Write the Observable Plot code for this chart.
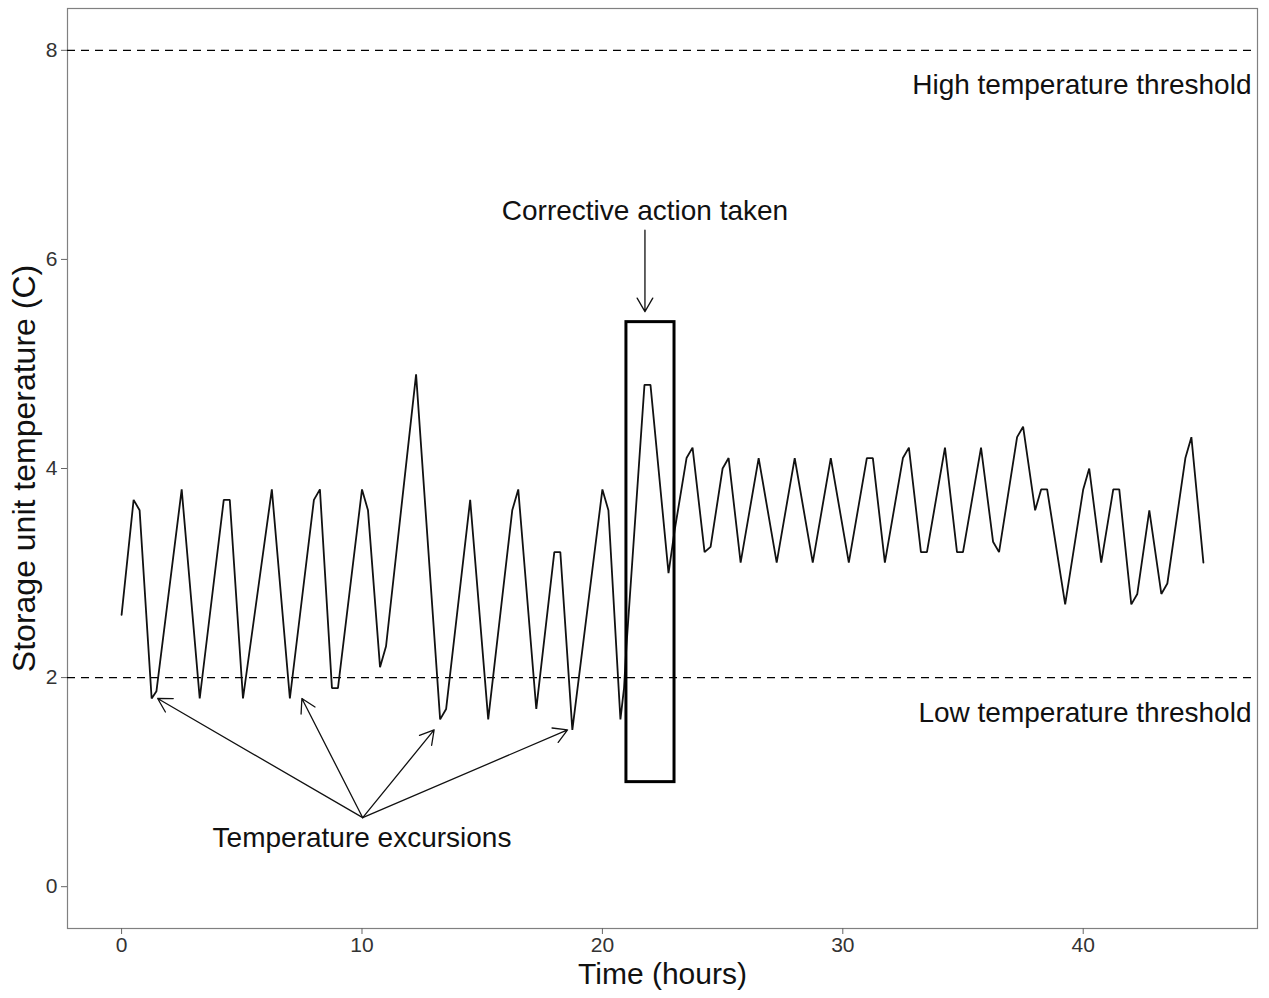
<!DOCTYPE html>
<html>
<head>
<meta charset="utf-8">
<script src="https://cdn.jsdelivr.net/npm/d3@7"></script>
<script src="https://cdn.jsdelivr.net/npm/@observablehq/plot@0.6"></script>
<style>
  html, body { margin: 0; padding: 0; background: #fff; }
  #chart svg { font-family: "Liberation Sans", Arial, sans-serif; background: #fff; }
</style>
</head>
<body>
<div id="chart"></div>
<script>
// Time (hours) and storage unit temperature (C)
const times = [0, 0.5, 0.75, 1.25, 1.45, 2.5, 3.25, 4.25, 4.5, 5.05, 6.25, 7.0, 8.0, 8.25, 8.75, 9.0,
  10.0, 10.25, 10.75, 11.0, 12.25, 13.25, 13.5, 14.5, 15.25, 16.25, 16.5, 17.25, 18.0, 18.25, 18.75,
  20.0, 20.25, 20.75, 20.9, 21.0, 21.75, 22.0, 22.75, 22.85, 23.0, 23.5, 23.75, 24.25, 24.5, 25.0, 25.25,
  25.75, 26.5, 27.25, 28.0, 28.75, 29.5, 30.25, 31.0, 31.25, 31.75, 32.5, 32.75, 33.25, 33.5,
  34.25, 34.75, 35.0, 35.75, 36.25, 36.5, 37.25, 37.5, 38.0, 38.25, 38.5, 39.25, 40.0, 40.25,
  40.75, 41.25, 41.5, 42.0, 42.25, 42.75, 43.25, 43.5, 44.25, 44.5, 45.0];
const temps = [2.6, 3.7, 3.6, 1.8, 1.87, 3.8, 1.8, 3.7, 3.7, 1.8, 3.8, 1.8, 3.7, 3.8, 1.9, 1.9,
  3.8, 3.6, 2.1, 2.3, 4.9, 1.6, 1.7, 3.7, 1.6, 3.6, 3.8, 1.7, 3.2, 3.2, 1.5,
  3.8, 3.6, 1.6, 1.9, 2.3, 4.8, 4.8, 3.0, 3.16, 3.4, 4.1, 4.2, 3.2, 3.25, 4.0, 4.1,
  3.1, 4.1, 3.1, 4.1, 3.1, 4.1, 3.1, 4.1, 4.1, 3.1, 4.1, 4.2, 3.2, 3.2,
  4.2, 3.2, 3.2, 4.2, 3.3, 3.2, 4.3, 4.4, 3.6, 3.8, 3.8, 2.7, 3.8, 4.0,
  3.1, 3.8, 3.8, 2.7, 2.8, 3.6, 2.8, 2.9, 4.1, 4.3, 3.1];

const xTicks = [0, 10, 20, 30, 40];
const yTicks = [0, 2, 4, 6, 8];

const thresholdValues = [8, 2];
const thresholdLabels = ["High temperature threshold", "Low temperature threshold"];
const thresholdLabelX = [47, 47];
const thresholdLabelY = [7.67, 1.66];

// Corrective action box
const boxX1 = [21], boxX2 = [23], boxY1 = [1], boxY2 = [5.4];

// Annotation texts
const noteTexts = ["Corrective action taken", "Temperature excursions"];
const noteX = [21.77, 10];
const noteY = [6.46, 0.47];

// Arrows
const arrowX1 = [21.77, 10.03, 10.03, 10.03, 10.03];
const arrowY1 = [6.28, 0.66, 0.66, 0.66, 0.66];
const arrowX2 = [21.77, 1.5, 7.5, 13.0, 18.55];
const arrowY2 = [5.5, 1.8, 1.8, 1.5, 1.5];

const series = times.map((t, i) => ({t, v: temps[i]}));
const thresholds = thresholdValues.map((v, i) => ({v, label: thresholdLabels[i], x: thresholdLabelX[i], y: thresholdLabelY[i]}));
const box = boxX1.map((x1, i) => ({x1, x2: boxX2[i], y1: boxY1[i], y2: boxY2[i]}));
const notes = noteTexts.map((s, i) => ({s, x: noteX[i], y: noteY[i]}));
const arrows = arrowX1.map((x1, i) => ({x1, y1: arrowY1[i], x2: arrowX2[i], y2: arrowY2[i]}));

const chart = Plot.plot({
  width: 1269,
  height: 998,
  marginLeft: 67,
  marginRight: 12,
  marginTop: 8,
  marginBottom: 70,
  x: {domain: [-2.25, 47.25]},
  y: {domain: [-0.4, 8.4]},
  marks: [
    Plot.frame({stroke: "#808080", strokeWidth: 1.2}),
    Plot.ruleY(thresholds, {y: "v", stroke: "#000", strokeWidth: 1.3, strokeDasharray: "8,6"}),
    Plot.text(thresholds, {x: "x", y: "y", text: "label", textAnchor: "end", fontSize: 28, fill: "#111"}),
    Plot.line(series, {x: "t", y: "v", stroke: "#111", strokeWidth: 1.8, strokeLinejoin: "miter"}),
    Plot.rect(box, {x1: "x1", x2: "x2", y1: "y1", y2: "y2", fill: "none", stroke: "#000", strokeWidth: 3}),
    Plot.arrow(arrows, {x1: "x1", y1: "y1", x2: "x2", y2: "y2", stroke: "#111", strokeWidth: 1.3, headLength: 18, headAngle: 60}),
    Plot.text(notes, {x: "x", y: "y", text: "s", fontSize: 28, fill: "#111"}),
    Plot.axisX({ticks: xTicks, tickSize: 6, tickPadding: 3, fontSize: 21, label: null, stroke: "#666", fill: "#333"}),
    Plot.axisY({ticks: yTicks, tickSize: 6, tickPadding: 4, fontSize: 21, label: null, stroke: "#666", fill: "#333"}),
    Plot.text(["Storage unit temperature (C)"], {frameAnchor: "left", textAnchor: "middle", dx: -43, dy: 0, rotate: -90, fontSize: 32, fill: "#111"}),
    Plot.text(["Time (hours)"], {frameAnchor: "bottom", textAnchor: "middle", dy: 55, fontSize: 30, fill: "#111"})
  ]
});
document.getElementById("chart").appendChild(chart);
</script>
</body>
</html>
